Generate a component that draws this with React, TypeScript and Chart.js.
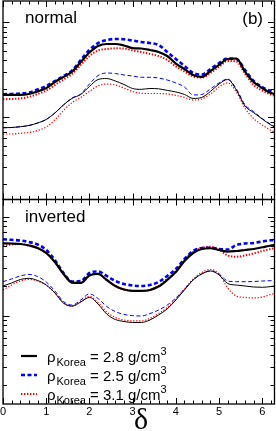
import React, { useEffect, useRef } from "react";
import { Chart, registerables } from "chart.js";

Chart.register(...registerables);

// phase delta grid (0 .. 2π)
const DELTA = [0, 0.2, 0.4, 0.6, 0.8, 1.0, 1.2, 1.4, 1.6, 1.8, 2.0, 2.2, 2.4, 2.6, 2.8, 3.0, 3.2, 3.4, 3.6, 3.8, 4.0, 4.2, 4.4, 4.6, 4.8, 5.0, 5.2, 5.4, 5.6, 5.8, 6.0, 6.2, 6.283];

// normal hierarchy – upper (thick) curves
const normalUpper28 = [0.172,0.172,0.172,0.176,0.187,0.203,0.235,0.266,0.302,0.382,0.481,0.563,0.591,0.591,0.570,0.536,0.530,0.511,0.487,0.442,0.368,0.322,0.279,0.266,0.307,0.356,0.411,0.416,0.303,0.235,0.203,0.180,0.176];
const normalUpper25 = [0.175,0.176,0.178,0.182,0.196,0.213,0.241,0.272,0.311,0.401,0.511,0.605,0.651,0.667,0.662,0.643,0.621,0.605,0.577,0.487,0.411,0.347,0.293,0.282,0.322,0.373,0.416,0.411,0.315,0.241,0.208,0.189,0.185];
const normalUpper31 = [0.155,0.156,0.158,0.164,0.176,0.191,0.219,0.250,0.286,0.356,0.442,0.505,0.524,0.532,0.530,0.505,0.487,0.464,0.442,0.401,0.343,0.303,0.269,0.262,0.293,0.339,0.392,0.387,0.289,0.219,0.191,0.174,0.169];
// normal hierarchy – lower (thin) curves
const normalLower28 = [0.0777,0.0781,0.0796,0.082,0.0871,0.0948,0.111,0.135,0.1585,0.174,0.211,0.25,0.256,0.241,0.2215,0.201,0.197,0.201,0.1995,0.192,0.185,0.174,0.158,0.162,0.187,0.224,0.25,0.194,0.1315,0.112,0.0959,0.083,0.0791];
const normalLower25 = [0.0777,0.0781,0.0796,0.082,0.0871,0.0948,0.111,0.135,0.1596,0.176,0.224,0.275,0.2925,0.289,0.279,0.272,0.264,0.264,0.259,0.247,0.230,0.2085,0.172,0.174,0.199,0.230,0.253,0.199,0.136,0.115,0.0971,0.084,0.080];
const normalLower31 = [0.0667,0.0667,0.0679,0.0692,0.0726,0.0791,0.0937,0.118,0.143,0.162,0.187,0.214,0.224,0.219,0.203,0.187,0.179,0.178,0.178,0.176,0.170,0.162,0.152,0.156,0.176,0.2085,0.230,0.185,0.125,0.0971,0.083,0.0726,0.070];

// inverted hierarchy – upper (thick) curves
const invertedUpper28 = [0.5385,0.536,0.530,0.512,0.483,0.430,0.349,0.264,0.216,0.214,0.255,0.264,0.2295,0.1995,0.184,0.178,0.178,0.182,0.197,0.2295,0.276,0.357,0.430,0.472,0.480,0.461,0.443,0.450,0.461,0.472,0.491,0.512,0.518];
const invertedUpper25 = [0.591,0.584,0.575,0.555,0.524,0.461,0.365,0.270,0.2215,0.224,0.270,0.280,0.252,0.224,0.209,0.202,0.1995,0.204,0.219,0.252,0.296,0.374,0.450,0.483,0.486,0.472,0.466,0.518,0.536,0.5425,0.562,0.5775,0.5815];
const invertedUpper31 = [0.506,0.524,0.530,0.512,0.483,0.430,0.349,0.264,0.216,0.214,0.255,0.264,0.2295,0.1995,0.184,0.178,0.178,0.182,0.1995,0.235,0.283,0.365,0.440,0.483,0.498,0.461,0.406,0.3945,0.406,0.425,0.450,0.472,0.480];
// inverted hierarchy – lower (thin) curves
const invertedLower28 = [0.1995,0.214,0.232,0.2385,0.227,0.204,0.170,0.134,0.125,0.1375,0.153,0.131,0.104,0.0915,0.0874,0.0854,0.0854,0.0905,0.1016,0.117,0.144,0.182,0.2295,0.264,0.283,0.258,0.2115,0.204,0.1995,0.195,0.1936,0.197,0.1995];
const invertedLower25 = [0.2205,0.235,0.252,0.261,0.249,0.219,0.178,0.139,0.128,0.144,0.166,0.149,0.124,0.110,0.103,0.100,0.0993,0.105,0.114,0.128,0.151,0.186,0.2295,0.264,0.283,0.264,0.224,0.2205,0.2205,0.2215,0.224,0.2257,0.2257];
const invertedLower31 = [0.1818,0.2042,0.224,0.232,0.224,0.2042,0.170,0.134,0.125,0.139,0.156,0.136,0.109,0.0959,0.0905,0.0885,0.0885,0.0937,0.105,0.121,0.1475,0.186,0.235,0.273,0.293,0.264,0.1905,0.158,0.153,0.151,0.1545,0.164,0.168];

const X_TICKS = [0, 1, 2, 3, 4, 5, 6];
const X_TICK_LABELS = ["0", "1", "2", "3", "4", "5", "6"];
const LEGEND_DENSITY = ["2.8", "2.5", "3.1"];

const W = 276;
const H = 431;
const FONT = "'Liberation Sans', Arial, Helvetica, sans-serif";

type Style = { color: string; dash: number[]; width: number };
const STYLES: Style[] = [
  { color: "#000000", dash: [], width: 2.2 },
  { color: "#0000ff", dash: [4, 2.5], width: 2.6 },
  { color: "#ff0000", dash: [1.4, 1.6], width: 2.0 },
];
const THIN: Style[] = [
  { color: "#000000", dash: [], width: 1 },
  { color: "#0000ff", dash: [4, 2.5], width: 1 },
  { color: "#ff0000", dash: [1.3, 1.7], width: 1.2 },
];

function ds(vals: number[], st: Style) {
  return {
    data: DELTA.map((x, i) => ({ x, y: vals[i] })),
    borderColor: st.color,
    borderWidth: st.width,
    borderDash: st.dash,
    pointRadius: 0,
    fill: false,
    cubicInterpolationMode: "monotone" as const,
  };
}

function framePlugin(opts: { label: string; bottom: boolean }) {
  return {
    id: "frame_" + opts.label,
    afterDraw(chart: any) {
      const ctx = chart.ctx as CanvasRenderingContext2D;
      const { left, right, top, bottom } = chart.chartArea;
      const xs = chart.scales.x;
      const ys = chart.scales.y;
      ctx.save();
      ctx.strokeStyle = "#000";
      ctx.lineWidth = 1.3;
      ctx.setLineDash([]);
      ctx.strokeRect(left, top, right - left, bottom - top);
      ctx.lineWidth = 1;
      ctx.beginPath();
      // x ticks
      for (let i = 0; i <= 31; i++) {
        const v = i * 0.2;
        const px = Math.round(xs.getPixelForValue(v)) + 0.5;
        const len = i % 5 === 0 ? 6 : 3.5;
        ctx.moveTo(px, top);
        ctx.lineTo(px, top + len);
        ctx.moveTo(px, bottom);
        ctx.lineTo(px, bottom - len);
      }
      // y log ticks
      for (let k = -3; k <= 1; k++) {
        for (let m = 1; m <= 9; m++) {
          const v = m * Math.pow(10, k);
          if (v < ys.min || v > ys.max) continue;
          const py = Math.round(ys.getPixelForValue(v)) + 0.5;
          const len = m === 1 ? 6.5 : 4;
          ctx.moveTo(left, py);
          ctx.lineTo(left + len, py);
          ctx.moveTo(right, py);
          ctx.lineTo(right - len, py);
        }
      }
      ctx.stroke();

      ctx.fillStyle = "#000";
      ctx.font = "17px " + FONT;
      ctx.textBaseline = "alphabetic";
      ctx.textAlign = "left";
      if (!opts.bottom) {
        ctx.fillText("normal", 25, 23);
        ctx.textAlign = "right";
        ctx.fillText("(b)", 263, 24);
      } else {
        ctx.fillText("inverted", 25, 222);
        // x tick labels
        ctx.font = "11px " + FONT;
        ctx.textAlign = "center";
        ctx.textBaseline = "top";
        X_TICKS.forEach((v, i) => {
          ctx.fillText(X_TICK_LABELS[i], xs.getPixelForValue(v), bottom + 2.5);
        });
        ctx.font = "30px 'Liberation Serif', 'Times New Roman', serif";
        ctx.textBaseline = "alphabetic";
        ctx.fillText("δ", 141, 429);
        // legend
        LEGEND_DENSITY.forEach((d, i) => {
          const cy = 356 + i * 19;
          const st = STYLES[i];
          ctx.save();
          ctx.strokeStyle = st.color;
          ctx.lineWidth = st.width;
          ctx.setLineDash(st.dash);
          ctx.beginPath();
          ctx.moveTo(21, cy);
          ctx.lineTo(37, cy);
          ctx.stroke();
          ctx.restore();
          const base = cy + 6;
          let x = 47;
          ctx.textAlign = "left";
          ctx.font = "15px " + FONT;
          ctx.fillText("ρ", x, base);
          x += ctx.measureText("ρ").width + 1;
          ctx.font = "11px " + FONT;
          ctx.fillText("Korea", x, base + 4);
          x += ctx.measureText("Korea").width;
          ctx.font = "15px " + FONT;
          const main = " = " + d + " g/cm";
          ctx.fillText(main, x, base);
          x += ctx.measureText(main).width;
          ctx.font = "11px " + FONT;
          ctx.fillText("3", x, base - 7);
        });
      }
      ctx.restore();
    },
  };
}

function makeChart(canvas: HTMLCanvasElement, bottomPanel: boolean) {
  const sets = bottomPanel
    ? [invertedUpper28, invertedUpper25, invertedUpper31, invertedLower28, invertedLower25, invertedLower31]
    : [normalUpper28, normalUpper25, normalUpper31, normalLower28, normalLower25, normalLower31];
  const datasets = sets.map((v, i) => ds(v, i < 3 ? STYLES[i] : THIN[i - 3]));
  const top = bottomPanel ? 199.5 : 1;
  const bot = bottomPanel ? 404 : 199.5;
  return new Chart(canvas, {
    type: "line",
    data: { datasets },
    options: {
      animation: false,
      responsive: false,
      devicePixelRatio: 1,
      layout: { padding: { left: 3, right: W - 274.5, top, bottom: H - bot } },
      plugins: { legend: { display: false }, tooltip: { enabled: false } },
      scales: {
        x: { type: "linear", min: 0, max: 2 * Math.PI, display: false },
        y: bottomPanel
          ? { type: "logarithmic", min: 0.01282, max: 1.492, display: false }
          : { type: "logarithmic", min: 0.01364, max: 1.676, display: false },
      },
    },
    plugins: [framePlugin({ label: bottomPanel ? "inv" : "nor", bottom: bottomPanel })],
  } as any);
}

export default function App() {
  const topRef = useRef<HTMLCanvasElement>(null);
  const botRef = useRef<HTMLCanvasElement>(null);
  useEffect(() => {
    document.body.style.margin = "0";
    const c1 = makeChart(topRef.current!, false);
    const c2 = makeChart(botRef.current!, true);
    return () => {
      c1.destroy();
      c2.destroy();
    };
  }, []);
  return (
    <div style={{ position: "relative", width: W, height: H, background: "#fff" }}>
      <canvas ref={topRef} width={W} height={H} style={{ position: "absolute", left: 0, top: 0 }} />
      <canvas ref={botRef} width={W} height={H} style={{ position: "absolute", left: 0, top: 0 }} />
    </div>
  );
}
